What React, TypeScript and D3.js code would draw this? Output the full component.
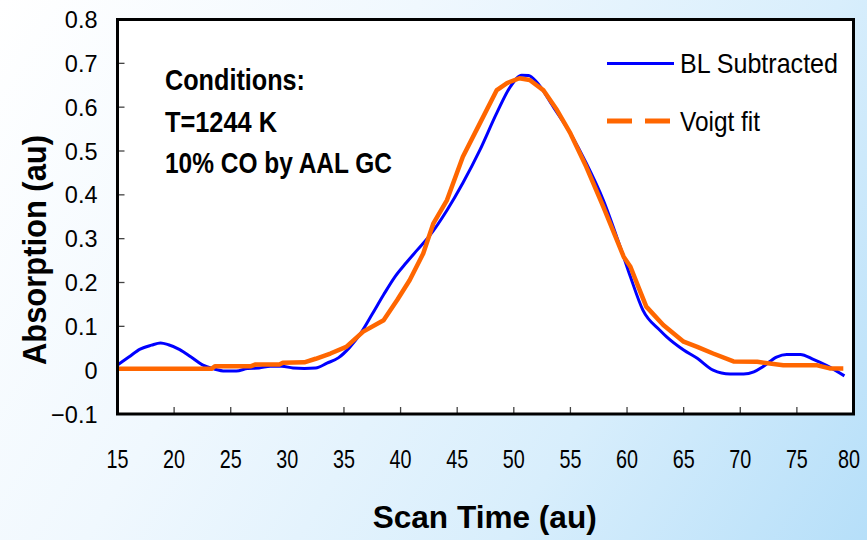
import React from "react";
import * as d3 from "d3";

const blueX = [15, 16, 17, 18, 18.8, 19.5, 20.5, 21.5, 22.5, 23.5, 24.5, 25.5, 26.5, 27.5, 28.5, 29.5, 30.5, 31.5, 32.5, 33.5, 34.5, 35.5, 36.5, 37.5, 38.5, 39.5, 40.5, 41.5, 42.6, 44.1, 45.5, 47, 48.5, 49.7, 50.7, 51.3, 52, 53.5, 55, 56.4, 57.9, 59.4, 60.3, 61.4, 62.9, 63.5, 65, 66.2, 67.6, 69.1, 70.3, 71.2, 72, 73.2, 74.1, 75.3, 76.5, 77.6, 79.2];
const blueY = [0.012, 0.03, 0.048, 0.057, 0.062, 0.058, 0.047, 0.03, 0.012, 0.003, -0.002, -0.002, 0.004, 0.005, 0.009, 0.009, 0.005, 0.004, 0.005, 0.016, 0.028, 0.052, 0.085, 0.128, 0.172, 0.213, 0.245, 0.275, 0.308, 0.365, 0.427, 0.502, 0.587, 0.647, 0.673, 0.672, 0.658, 0.6, 0.54, 0.472, 0.388, 0.281, 0.213, 0.137, 0.091, 0.076, 0.046, 0.027, 0.0, -0.009, -0.009, -0.004, 0.008, 0.03, 0.036, 0.036, 0.024, 0.011, -0.013];

const fitX = [15, 23.3, 23.6, 26.8, 27.2, 29.3, 29.6, 31.5, 32.5, 33.8, 35.2, 36.7, 38.5, 39.7, 40.8, 42.0, 42.9, 44.1, 45.5, 47.0, 48.5, 49.4, 50.5, 51.4, 52.6, 53.8, 55.0, 56.4, 57.9, 59.7, 60.3, 61.0, 61.7, 63.2, 65.0, 66.2, 67.6, 69.4, 71.5, 73.8, 76.8, 77.9, 79.1];
const fitY = [0.003, 0.003, 0.009, 0.009, 0.013, 0.013, 0.017, 0.018, 0.026, 0.038, 0.053, 0.088, 0.114, 0.16, 0.205, 0.266, 0.335, 0.388, 0.487, 0.563, 0.639, 0.655, 0.666, 0.662, 0.639, 0.594, 0.54, 0.464, 0.373, 0.259, 0.236, 0.19, 0.145, 0.103, 0.065, 0.053, 0.038, 0.02, 0.019, 0.011, 0.011, 0.004, 0.004];

const xTicks = [15, 20, 25, 30, 35, 40, 45, 50, 55, 60, 65, 70, 75, 80];
const yTicks = [-0.1, 0, 0.1, 0.2, 0.3, 0.4, 0.5, 0.6, 0.7, 0.8];
const conditionLines = ["Conditions:", "T=1244 K", "10% CO by AAL GC"];
const seriesNames = ["BL Subtracted", "Voigt fit"];

const W = 867;
const H = 540;
const FONT = "'Liberation Sans', Arial, sans-serif";

export default function App() {
  const x = d3.scaleLinear().domain([15, 80]).range([117.5, 853.5]);
  const y = d3.scaleLinear().domain([-0.1, 0.8]).range([414, 19.5]);

  const blueLine = d3
    .line<number>()
    .x((_, i) => x(blueX[i]))
    .y((d) => y(d))
    .curve(d3.curveMonotoneX)(blueY) as string;
  const fitLine = d3
    .line<number>()
    .x((_, i) => x(fitX[i]))
    .y((d) => y(d))
    .curve(d3.curveLinear)(fitY) as string;

  const fmtY = (v: number) => (v === 0 ? "0" : d3.format(".1f")(v));
  const condBase = [90, 131.5, 172.5];
  const condLen = [140, 112, 227];

  return (
    <svg width={W} height={H} style={{ position: "absolute", left: 0, top: 0, display: "block" }}>
      <defs>
        <linearGradient id="bg" gradientUnits="userSpaceOnUse" x1={0} y1={0} x2={W} y2={H}>
          <stop offset="0" stopColor="#ffffff" />
          <stop offset="0.35" stopColor="#f0f8fe" />
          <stop offset="0.7" stopColor="#d8eefc" />
          <stop offset="1" stopColor="#b6dff9" />
        </linearGradient>
      </defs>
      <rect x={0} y={0} width={W} height={H} fill="url(#bg)" />
      <rect x={x(15)} y={y(0.8)} width={x(80) - x(15)} height={y(-0.1) - y(0.8)} fill="#ffffff" />

      {/* ticks */}
      {yTicks.map((t) => (
        <line key={"yt" + t} x1={x(15)} x2={x(15) + 7} y1={y(t)} y2={y(t)} stroke="#444" strokeWidth={1.3} />
      ))}
      {xTicks.map((t) => (
        <line key={"xt" + t} x1={x(t)} x2={x(t)} y1={y(-0.1)} y2={y(-0.1) - 7} stroke="#444" strokeWidth={1.3} />
      ))}

      {/* series */}
      <path d={blueLine} fill="none" stroke="#0000ff" strokeWidth={3} strokeLinejoin="round" />
      <path d={fitLine} fill="none" stroke="#ff6600" strokeWidth={4.5} strokeLinejoin="round" />

      {/* frame */}
      <rect x={x(15)} y={y(0.8)} width={x(80) - x(15)} height={y(-0.1) - y(0.8)} fill="none" stroke="#000" strokeWidth={3} />

      {/* tick labels */}
      {yTicks.map((t) => (
        <text key={"yl" + t} x={97.5} y={y(t) + 8.5} textAnchor="end" fontFamily={FONT} fontSize={23.5} fill="#000">
          {fmtY(t)}
        </text>
      ))}
      {xTicks.map((t) => (
        <text key={"xl" + t} x={Math.min(x(t), 849)} y={468} textAnchor="middle" fontFamily={FONT} fontSize={25.5} textLength={22} lengthAdjust="spacingAndGlyphs" fill="#000">
          {t}
        </text>
      ))}

      {/* annotation */}
      {conditionLines.map((s, i) => (
        <text key={"c" + i} x={165} y={condBase[i]} fontFamily={FONT} fontWeight="bold" fontSize={29.5} textLength={condLen[i]} lengthAdjust="spacingAndGlyphs" fill="#000">
          {s}
        </text>
      ))}

      {/* legend */}
      <line x1={607} x2={674} y1={63.5} y2={63.5} stroke="#0000ff" strokeWidth={3} />
      <text x={680} y={73.3} fontFamily={FONT} fontSize={28.5} textLength={158} lengthAdjust="spacingAndGlyphs" fill="#000">
        {seriesNames[0]}
      </text>
      <line x1={607} x2={671} y1={121} y2={121} stroke="#ff6600" strokeWidth={5} strokeDasharray="25 13" />
      <text x={680} y={130.7} fontFamily={FONT} fontSize={28.5} textLength={80} lengthAdjust="spacingAndGlyphs" fill="#000">
        {seriesNames[1]}
      </text>

      {/* axis titles */}
      <text x={484.7} y={527.5} textAnchor="middle" fontFamily={FONT} fontWeight="bold" fontSize={31} textLength={224} lengthAdjust="spacingAndGlyphs" fill="#000">
        Scan Time (au)
      </text>
      <text transform={`translate(46,250) rotate(-90)`} textAnchor="middle" fontFamily={FONT} fontWeight="bold" fontSize={33} textLength={230} lengthAdjust="spacingAndGlyphs" fill="#000">
        Absorption (au)
      </text>
    </svg>
  );
}
